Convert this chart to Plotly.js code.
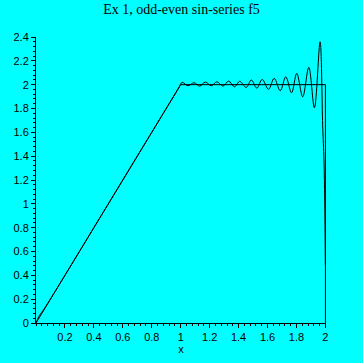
<!DOCTYPE html>
<html>
<head>
<meta charset="utf-8">
<script src="https://cdn.plot.ly/plotly-3.0.1.min.js"></script>
<style>html,body{margin:0;padding:0;background:#00FFFF;}#chart{width:363px;height:363px;}</style>
</head>
<body>
<div id="chart"></div>
<script>
// Target function f5 (piecewise)
const fX = [0, 1, 2, 2];
const fY = [0, 2, 2, 0];

// Odd-even sine series partial sum
const seriesX = [0, 0.02, 0.06, 0.2, 0.4, 0.6, 0.8, 0.95, 0.985, 1.01,
  1.050, 1.092, 1.131, 1.170, 1.212, 1.250, 1.292, 1.331, 1.372, 1.407,
  1.453, 1.488, 1.526, 1.563, 1.607, 1.646, 1.688, 1.726, 1.766, 1.802,
  1.843, 1.885, 1.924, 1.963, 1.981, 1.990, 1.995, 2.0];
const seriesY = [0, 0.055, 0.125, 0.4, 0.8, 1.2, 1.6, 1.9, 1.97, 2.019,
  1.991, 2.016, 1.988, 2.022, 1.991, 2.024, 1.988, 2.030, 1.982, 2.028,
  1.977, 2.039, 1.971, 2.044, 1.961, 2.053, 1.949, 2.066, 1.932, 2.095,
  1.898, 2.145, 1.806, 2.360, 1.661, 1.367, 1.032, 0.487];

// Tick labels
const xTickVals = [0.2, 0.4, 0.6, 0.8, 1, 1.2, 1.4, 1.6, 1.8, 2];
const xTickText = ["0.2", "0.4", "0.6", "0.8", "1", "1.2", "1.4", "1.6", "1.8", "2"];
const yTickVals = [0, 0.2, 0.4, 0.6, 0.8, 1, 1.2, 1.4, 1.6, 1.8, 2, 2.2, 2.4];
const yTickText = ["0", "0.2", "0.4", "0.6", "0.8", "1", "1.2", "1.4", "1.6", "1.8", "2", "2.2", "2.4"];

const traces = [
  {x: fX, y: fY, type: 'scatter', mode: 'lines', line: {color: '#000', width: 1}, hoverinfo: 'skip'},
  {x: seriesX, y: seriesY, type: 'scatter', mode: 'lines', line: {color: '#000', width: 1, shape: 'spline', smoothing: 1}, hoverinfo: 'skip'}
];

const tickFont = {family: 'Liberation Sans, Arial, sans-serif', size: 11, color: '#000'};

const layout = {
  width: 363, height: 363,
  margin: {l: 36, r: 37, t: 37, b: 40, pad: 0},
  paper_bgcolor: '#00FFFF', plot_bgcolor: '#00FFFF',
  showlegend: false,
  title: {text: 'Ex 1, odd-even sin-series f5', font: {family: 'Liberation Serif, Times New Roman, serif', size: 14, color: '#000'}, x: 0.5, xanchor: 'center', y: 0.975, yanchor: 'middle'},
  xaxis: {
    range: [0, 2.004], showgrid: false, zeroline: false,
    showline: true, linecolor: '#000', linewidth: 1,
    tickmode: 'array', tickvals: xTickVals, ticktext: xTickText,
    ticks: 'outside', ticklen: 4, tickcolor: '#000', tickwidth: 1,
    tickfont: tickFont,
    minor: {tickmode: 'linear', tick0: 0, dtick: 0.04, ticks: 'outside', ticklen: 2, tickcolor: '#000', tickwidth: 1, showgrid: false},
    title: {text: 'x', font: tickFont, standoff: 1}
  },
  yaxis: {
    range: [0, 2.4], showgrid: false, zeroline: false,
    showline: true, linecolor: '#000', linewidth: 1,
    tickmode: 'array', tickvals: yTickVals, ticktext: yTickText,
    ticks: 'outside', ticklen: 4, tickcolor: '#000', tickwidth: 1,
    tickfont: tickFont,
    minor: {tickmode: 'linear', tick0: 0, dtick: 0.04, ticks: 'outside', ticklen: 2, tickcolor: '#000', tickwidth: 1, showgrid: false}
  }
};

Plotly.newPlot('chart', traces, layout, {staticPlot: true, displayModeBar: false});
</script>
</body>
</html>
